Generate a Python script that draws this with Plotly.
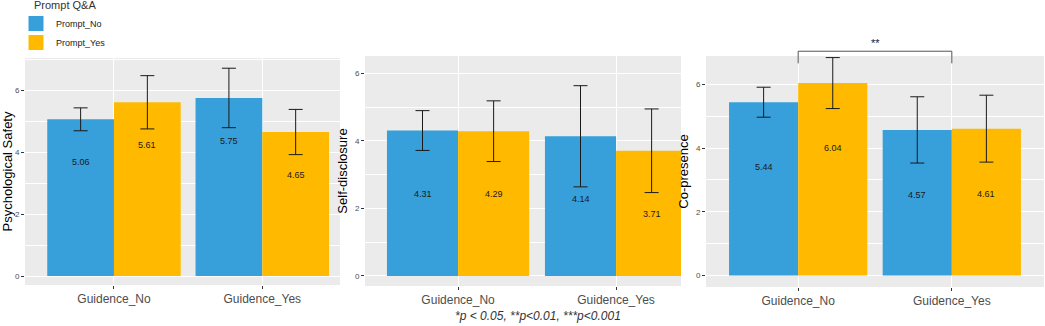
import plotly.graph_objects as go

# ---------------- data ----------------
categories = ["Guidence_No", "Guidence_Yes"]
groups = ["Prompt_No", "Prompt_Yes"]
measures = ["Psychological Safety", "Self-disclosure", "Co-presence"]

ps_no = [5.06, 5.75]
ps_yes = [5.61, 4.65]
ps_no_err = [0.37, 0.96]
ps_yes_err = [0.86, 0.73]

sd_no = [4.31, 4.14]
sd_yes = [4.29, 3.71]
sd_no_err = [0.59, 1.50]
sd_yes_err = [0.90, 1.24]

cp_no = [5.44, 4.57]
cp_yes = [6.04, 4.61]
cp_no_err = [0.47, 1.04]
cp_yes_err = [0.80, 1.05]

yticks = [0, 2, 4, 6]
sig_label = "**"
footnote = "*p < 0.05, **p<0.01, ***p<0.001"
legend_title = "Prompt Q&A"

# ---------------- style ----------------
W, H = 1045, 326
FONT = "Liberation Sans, Arial, sans-serif"
colors = {"Prompt_No": "#379FDA", "Prompt_Yes": "#FFBA00"}
panel_bg = "#EBEBEB"

panels = [
    dict(no=ps_no, yes=ps_yes, no_err=ps_no_err, yes_err=ps_yes_err,
         xdom=(25, 340), ydom=(58, 285), xr=(-0.6, 1.524), yr=(-0.29, 7.04), drop=43),
    dict(no=sd_no, yes=sd_yes, no_err=sd_no_err, yes_err=sd_yes_err,
         xdom=(365, 681), ydom=(56, 286), xr=(-0.589, 1.411), yr=(-0.30, 6.52), drop=63),
    dict(no=cp_no, yes=cp_yes, no_err=cp_no_err, yes_err=cp_yes_err,
         xdom=(706, 1044), ydom=(56, 287), xr=(-0.6, 1.6), yr=(-0.36, 6.89), drop=65),
]

fig = go.Figure()
annotations = []
shapes = []

for i, p in enumerate(panels):
    sfx = "" if i == 0 else str(i + 1)
    xa, ya = "x" + sfx, "y" + sfx
    for g, vals, errs in [(groups[0], p["no"], p["no_err"]), (groups[1], p["yes"], p["yes_err"])]:
        fig.add_trace(go.Bar(
            x=categories, y=vals, name=g, xaxis=xa, yaxis=ya,
            marker=dict(color=colors[g], line=dict(width=0)),
            offsetgroup=g, showlegend=False,
            error_y=dict(type="data", array=errs, color="#1a1a1a", thickness=1, width=7),
        ))
    for gi, vals in enumerate([p["no"], p["yes"]]):
        for ci, v in enumerate(vals):
            annotations.append(dict(
                x=ci + (-0.225 if gi == 0 else 0.225), y=v, xref=xa, yref=ya,
                text=f"{v:.2f}", showarrow=False, yshift=-p["drop"],
                font=dict(family=FONT, size=9, color="#1a1a1a"),
            ))
    fig.layout["xaxis" + sfx] = dict(
        domain=[p["xdom"][0] / W, p["xdom"][1] / W], anchor=ya,
        type="category", categoryorder="array", categoryarray=categories,
        range=list(p["xr"]), showgrid=True, gridcolor="white", gridwidth=1,
        ticks="outside", ticklen=3, tickcolor="#333333", tickwidth=1,
        tickfont=dict(family=FONT, size=12, color="#4D4D4D"),
        showline=False, zeroline=False, fixedrange=True,
    )
    fig.layout["yaxis" + sfx] = dict(
        domain=[1 - p["ydom"][1] / H, 1 - p["ydom"][0] / H], anchor=xa,
        range=list(p["yr"]), tickvals=yticks, showgrid=True, gridcolor="white", gridwidth=1,
        minor=dict(dtick=1, tick0=0, showgrid=True, gridcolor="white", gridwidth=0.5, ticks=""),
        ticks="outside", ticklen=3, tickcolor="#333333", tickwidth=1,
        tickfont=dict(family=FONT, size=8, color="#4D4D4D"),
        title=dict(text=measures[i], font=dict(family=FONT, size=13, color="#000000"), standoff=4),
        zeroline=False, showline=False, fixedrange=True,
    )
    shapes.append(dict(type="rect", xref=xa + " domain", yref=ya + " domain",
                       x0=0, x1=1, y0=0, y1=1, fillcolor=panel_bg, line=dict(width=0), layer="below"))

# significance bracket on panel 3
p3 = panels[2]
def y3_to_paper(v):
    y0p, y1p = 1 - p3["ydom"][1] / H, 1 - p3["ydom"][0] / H
    lo, hi = p3["yr"]
    return y0p + (v - lo) / (hi - lo) * (y1p - y0p)

bracket_top, bracket_leg = 7.04, 6.66
top_p, leg_p = y3_to_paper(bracket_top), y3_to_paper(bracket_leg)
shapes.append(dict(type="path", xref="x3", yref="paper",
                   path=f"M 0,{leg_p} L 0,{top_p} L 1,{top_p} L 1,{leg_p}",
                   line=dict(color="#555555", width=1)))
annotations.append(dict(x=0.5, y=y3_to_paper(7.30), xref="x3", yref="paper", text=sig_label,
                        showarrow=False, font=dict(family=FONT, size=11, color="#1a1a1a"),
                        yanchor="middle"))

annotations.append(dict(x=538 / W, y=1 - 316 / H, xref="paper", yref="paper", text=footnote,
                        showarrow=False, yanchor="middle",
                        font=dict(family=FONT, size=12, color="#333333", style="italic")))

annotations.append(dict(x=32 / W, y=1 - 5 / H, xref="paper", yref="paper", text=legend_title,
                        showarrow=False, xanchor="left", yanchor="middle",
                        font=dict(family=FONT, size=11, color="#333333")))

for g in groups:
    fig.add_trace(go.Scatter(x=[None], y=[None], mode="markers", name=g,
                             marker=dict(symbol="square", size=15, color=colors[g]),
                             showlegend=True))

fig.update_layout(
    width=W, height=H, margin=dict(l=0, r=0, t=0, b=0),
    paper_bgcolor="white", plot_bgcolor=panel_bg,
    barmode="group", bargap=0.1, bargroupgap=0,
    font=dict(family=FONT, color="#333333"),
    shapes=shapes, annotations=annotations,
    legend=dict(x=16 / W, y=1 - 9 / H, xanchor="left", yanchor="top",
                font=dict(family=FONT, size=9, color="#1a1a1a"),
                bgcolor="rgba(0,0,0,0)", tracegroupgap=0),
    showlegend=True,
)

fig.write_html("out.html", config={"displayModeBar": False},
               post_script="document.body.style.margin='0px';")
